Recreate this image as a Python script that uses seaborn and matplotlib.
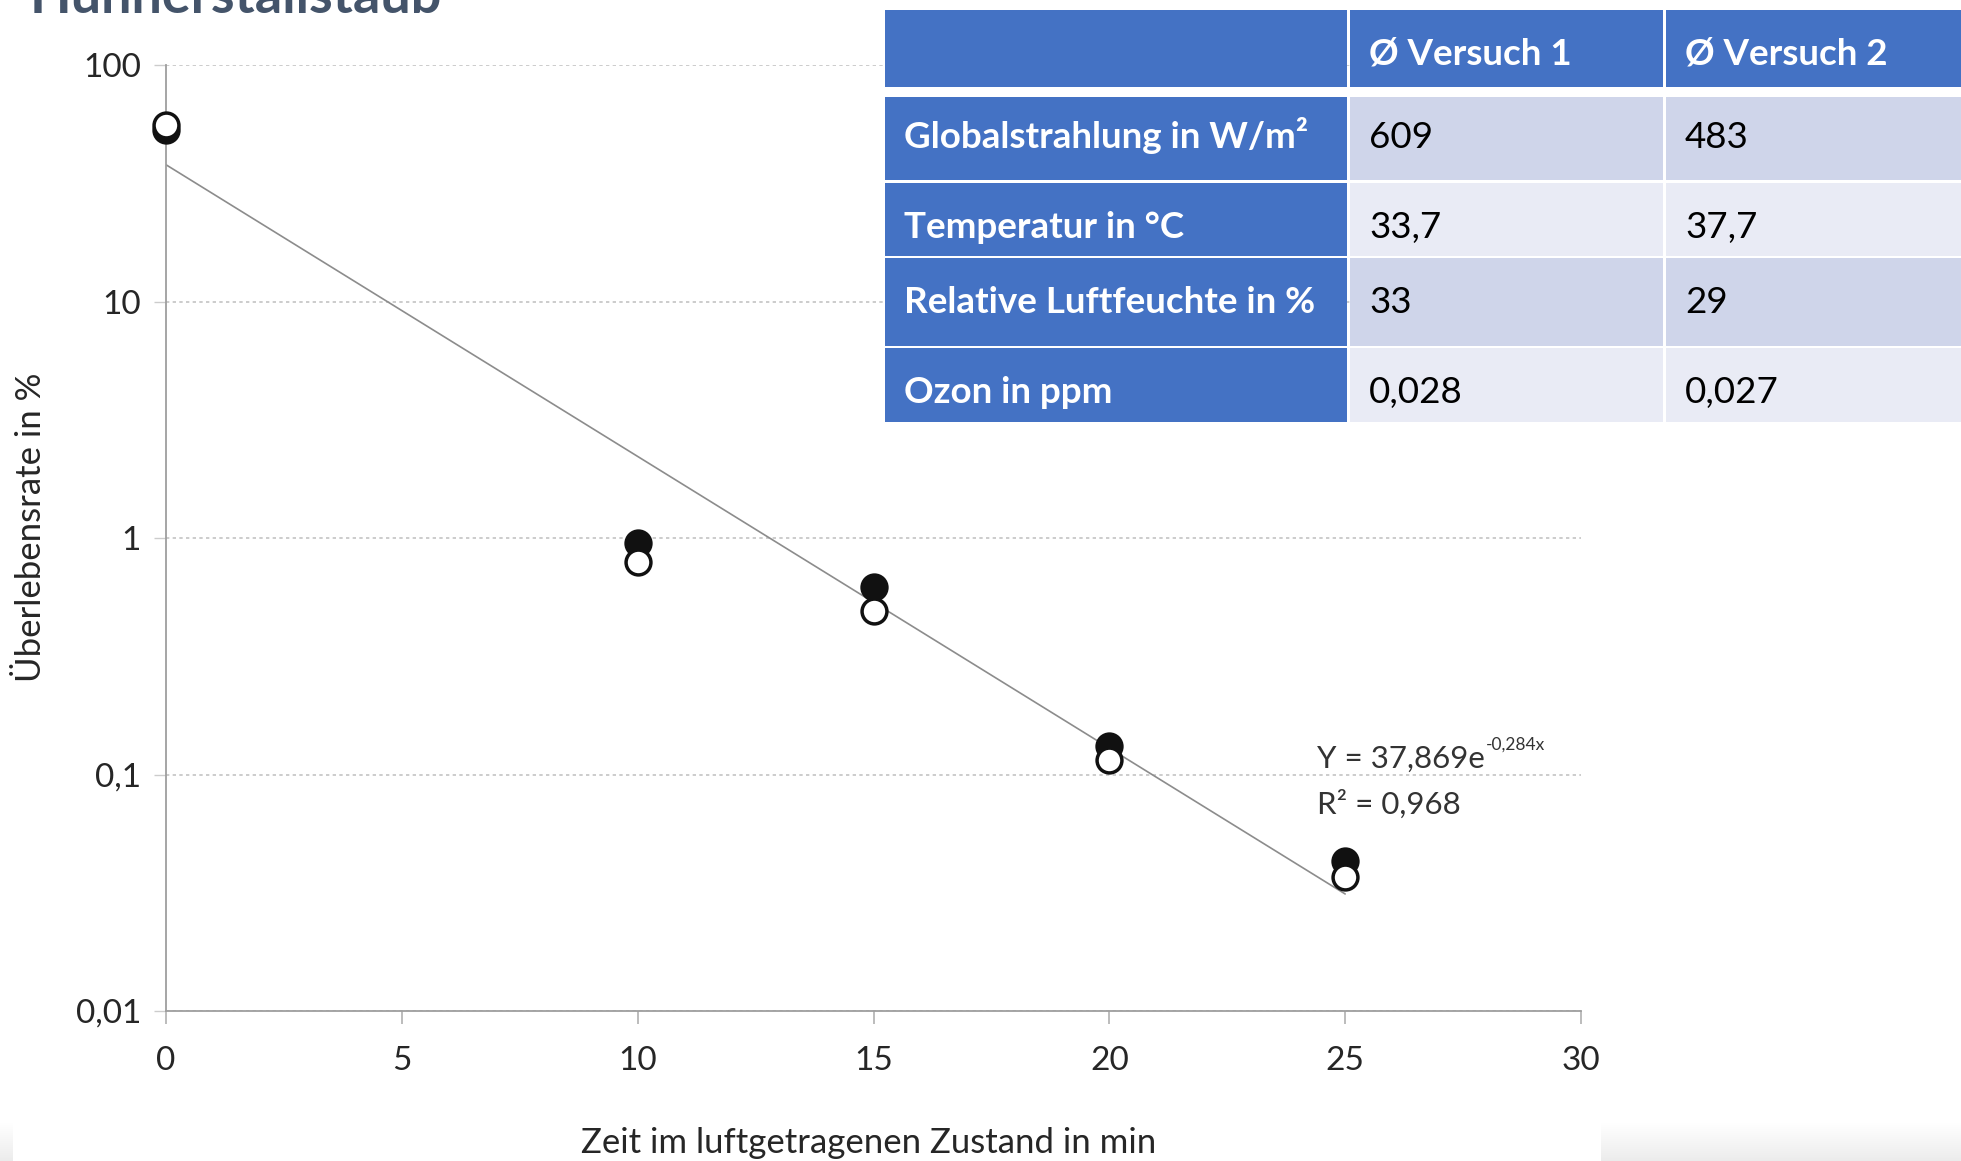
import numpy as np
import matplotlib
matplotlib.use("Agg")
import matplotlib.pyplot as plt
import seaborn as sns
from matplotlib.patches import Rectangle
from matplotlib.ticker import NullLocator

# Survival rate (%) of airborne germs from poultry-house dust over time
time_min = [0, 10, 15, 20, 25]
versuch_1 = [53.2, 0.95, 0.62, 0.132, 0.043]   # filled markers
versuch_2 = [55.8, 0.79, 0.49, 0.115, 0.037]   # open markers

# Exponential trend  Y = a * e^(b x)
fit_a = 37.869
fit_b = -0.284
fit_r2 = 0.968
fit_x_end = 25

x_ticks = [0, 5, 10, 15, 20, 25, 30]
y_ticks = [0.01, 0.1, 1, 10, 100]
y_tick_labels = ["0,01", "0,1", "1", "10", "100"]

# Weather conditions table
table_header = ["", "Ø Versuch 1", "Ø Versuch 2"]
table_rows = ["Globalstrahlung in W/m²", "Temperatur in °C",
              "Relative Luftfeuchte in %", "Ozon in ppm"]
table_v1 = ["609", "33,7", "33", "0,028"]
table_v2 = ["483", "37,7", "29", "0,027"]

title_text = "Hühnerstallstaub"
x_label = "Zeit im luftgetragenen Zustand in min"
y_label = "Überlebensrate in %"

sns.set_style("white")
plt.rcParams["font.family"] = ["Lato", "DejaVu Sans"]

W, H = 1961, 1161
fig = plt.figure(figsize=(W / 100, H / 100), dpi=100)
fig.patch.set_facecolor("white")

ax_l, ax_r, ax_b, ax_t = 166, 1581, 1011, 65
ax = fig.add_axes([ax_l / W, 1 - ax_b / H, (ax_r - ax_l) / W, (ax_b - ax_t) / H])

# trend line
fit_x = np.linspace(0, fit_x_end, 200)
fit_y = fit_a * np.exp(fit_b * fit_x)
sns.lineplot(x=fit_x, y=fit_y, ax=ax, color="#8c8c8c", linewidth=1.2, zorder=2)

# measurements
sns.scatterplot(x=time_min, y=versuch_1, ax=ax, s=320, color="#111111",
                edgecolor="#111111", linewidth=2.5, zorder=3, clip_on=False)
sns.scatterplot(x=time_min, y=versuch_2, ax=ax, s=320, color="white",
                edgecolor="#111111", linewidth=2.5, zorder=4, clip_on=False)

ax.set_yscale("log")
ax.set_xlim(0, 30)
ax.set_ylim(0.01, 100)
ax.set_yticks(y_ticks, y_tick_labels)
ax.yaxis.set_minor_locator(NullLocator())
ax.set_xticks(x_ticks)

ax.yaxis.grid(True, color="#c4c4c4", linestyle=(0, (2, 2)), linewidth=1.2)
ax.xaxis.grid(False)
for side in ("top", "right"):
    ax.spines[side].set_visible(False)
for side in ("left", "bottom"):
    ax.spines[side].set_color("#9e9e9e")
    ax.spines[side].set_linewidth(1.3)

ax.tick_params(axis="x", bottom=True, direction="out", length=9.5, width=1.2,
               color="#b0b0b0", pad=15.5, labelsize=24, labelcolor="#262626")
ax.tick_params(axis="y", left=True, direction="out", length=9, width=1.0,
               color="#cccccc", pad=9, labelsize=24, labelcolor="#262626")

ax.set_xlabel(x_label, fontsize=25, color="#262626")
ax.xaxis.set_label_coords((869 - ax_l) / (ax_r - ax_l), (ax_b - 1127) / (ax_b - ax_t))
ax.set_ylabel(y_label, fontsize=25, color="#262626")
ax.yaxis.label.set_va("center")
ax.yaxis.set_label_coords((31 - ax_l) / (ax_r - ax_l), (ax_b - 527) / (ax_b - ax_t))

# overlay in pixel coordinates for title, table and equation
ov = fig.add_axes([0, 0, 1, 1], zorder=5)
ov.set_xlim(0, W)
ov.set_ylim(H, 0)
ov.axis("off")

ov.text(30, 13, title_text, fontsize=39, fontweight="bold", color="#44546A",
        va="baseline", ha="left")

# equation of the trend line
eq_main = ov.text(1317, 768, f"Y = {fit_a:.3f}".replace(".", ",") + "e",
                  fontsize=22.5, color="#333333", va="baseline", ha="left")
ov.annotate(f"{fit_b:.3f}".replace(".", ",") + "x", xy=(1, 0), xycoords=eq_main,
            xytext=(1, 17), textcoords="offset points", fontsize=12.5,
            color="#333333", va="baseline", ha="left")
ov.text(1317, 814, f"R² = {fit_r2:.3f}".replace(".", ","), fontsize=22.5,
        color="#333333", va="baseline", ha="left")

# table
col_edges = [(885, 1347), (1350, 1663), (1666, 1961)]
row_edges = [(10, 87), (97, 180), (183, 256), (258, 346), (348, 422)]
baselines = [64, 148, 238, 313, 403]
blue = "#4472C4"
body_colors = ["#CFD5EA", "#E9EBF5"]

cells = [table_header] + [[r, a, b] for r, a, b in zip(table_rows, table_v1, table_v2)]
for ri, ((y0, y1), base, row) in enumerate(zip(row_edges, baselines, cells)):
    for ci, ((x0, x1), txt) in enumerate(zip(col_edges, row)):
        if ri == 0 or ci == 0:
            fc = blue
            tc = "white"
            fw = "bold"
        else:
            fc = body_colors[(ri - 1) % 2]
            tc = "black"
            fw = "normal"
        ov.add_patch(Rectangle((x0, y0), x1 - x0, y1 - y0, facecolor=fc,
                               edgecolor="none"))
        if txt:
            ov.text(x0 + 19, base, txt, fontsize=26.5, fontweight=fw, color=tc,
                    va="baseline", ha="left")

# soft grey slide background peeking out at the bottom corners
grad = np.linspace(1.0, 0.925, 60)[:, None, None] * np.ones((1, 2, 3))
for (gx0, gx1) in [(0, 13), (1601, 1961)]:
    ga = fig.add_axes([gx0 / W, 0, (gx1 - gx0) / W, 38 / H], zorder=6)
    ga.imshow(grad, aspect="auto", interpolation="bilinear")
    ga.axis("off")

fig.savefig("out.png", dpi=100)
